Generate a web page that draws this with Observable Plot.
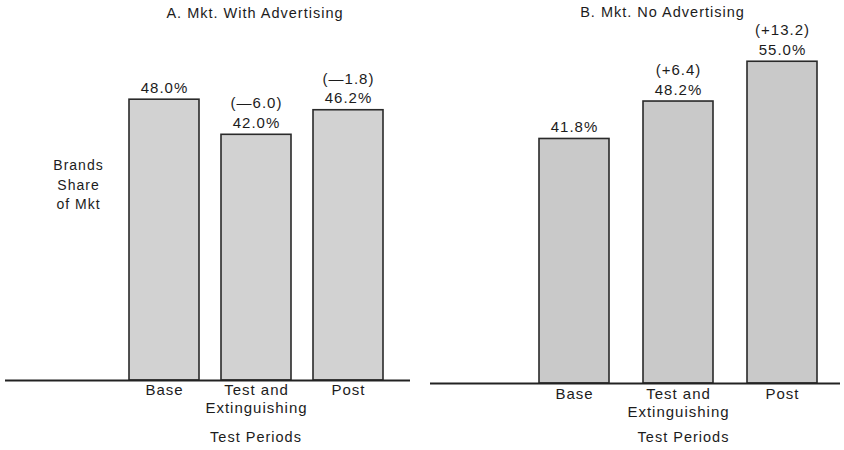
<!DOCTYPE html>
<html>
<head>
<meta charset="utf-8">
<script src="https://cdn.jsdelivr.net/npm/d3@7"></script>
<script src="https://cdn.jsdelivr.net/npm/@observablehq/plot@0.6"></script>
<style>
  html, body { margin: 0; padding: 0; background: #fff; }
  #wrap { position: relative; width: 844px; height: 450px; overflow: hidden; }
  #wrap svg { position: absolute; top: 0; }
  #wrap svg text { letter-spacing: 1px; }
</style>
</head>
<body>
<div id="wrap"></div>
<script>
// Data
const periods = ["Base", "Test and\nExtinguishing", "Post"];
const shareA = [48.0, 42.0, 46.2];
const changeA = ["", "(—6.0)", "(—1.8)"];
const shareB = [41.8, 48.2, 55.0];
const changeB = ["", "(+6.4)", "(+13.2)"];
const titleA = "A. Mkt. With Advertising";
const titleB = "B. Mkt. No Advertising";
const yLabel = "Brands\nShare\nof Mkt";
const xLabel = "Test Periods";

const font = "'Liberation Sans', Arial, Helvetica, sans-serif";
const ink = "#1c1c1c";

function rows(values, changes) {
  return periods.map((p, i) => ({
    period: p,
    value: values[i],
    label: (changes[i] ? changes[i] + "\n" : "") + values[i].toFixed(1) + "%"
  }));
}

function panel(opts) {
  const data = rows(opts.values, opts.changes);
  const marks = [
    Plot.barY(data, {x: "period", y: "value", fill: opts.fill, stroke: "#2a2a2a", strokeWidth: 1.6}),
    Plot.ruleY([0], {stroke: "#222", strokeWidth: 2.2, insetLeft: opts.ruleInsetLeft, insetRight: opts.ruleInsetRight}),
    Plot.text(data, {x: "period", y: "value", text: "label", lineAnchor: "bottom", dy: -7, fontSize: 15, lineHeight: 1.3, fill: ink}),
    Plot.text(periods, {x: d => d, text: d => d, frameAnchor: "bottom", lineAnchor: "top", dy: opts.tickDy, fontSize: 15, lineHeight: 1.2, fill: ink}),
    Plot.text([opts.title], {frameAnchor: "top", dx: opts.titleDx, dy: opts.titleDy, lineAnchor: "middle", fontSize: 14.5, fill: ink}),
    Plot.text([xLabel], {frameAnchor: "bottom", dx: opts.xLabelDx, dy: opts.xLabelDy, lineAnchor: "middle", fontSize: 14.5, fill: ink})
  ];
  if (opts.showYLabel) {
    marks.push(Plot.text([yLabel], {frameAnchor: "top-left", dx: -39, dy: 154, lineAnchor: "middle", textAnchor: "middle", fontSize: 14, lineHeight: 1.4, fill: ink}));
  }
  return Plot.plot({
    width: 422,
    height: 450,
    marginLeft: opts.marginLeft,
    marginRight: opts.marginRight,
    marginTop: opts.marginTop,
    marginBottom: opts.marginBottom,
    style: {fontFamily: font, fontSize: "15px", color: ink, background: "transparent", overflow: "visible"},
    x: {domain: periods, paddingInner: opts.pad, paddingOuter: opts.pad / 2, axis: null},
    y: {domain: [0, 60], axis: null},
    marks
  });
}

const wrap = document.getElementById("wrap");

const a = panel({
  values: shareA, changes: changeA, title: titleA, fill: "#d2d2d2",
  marginLeft: 117, marginRight: 28, marginTop: 29, marginBottom: 70, pad: 0.24,
  ruleInsetLeft: -112, ruleInsetRight: -16, tickDy: 2,
  titleDx: -1, titleDy: -16, xLabelDx: 0, xLabelDy: 57, showYLabel: true
});
a.style.left = "0px";
wrap.appendChild(a);

const b = panel({
  values: shareB, changes: changeB, title: titleB, fill: "#c9c9c9",
  marginLeft: 100, marginRight: 10, marginTop: 32, marginBottom: 67, pad: 0.33,
  ruleInsetLeft: -92, ruleInsetRight: -6, tickDy: 3,
  titleDx: -16, titleDy: -20, xLabelDx: 5, xLabelDy: 54, showYLabel: false
});
b.style.left = "422px";
wrap.appendChild(b);
</script>
</body>
</html>
